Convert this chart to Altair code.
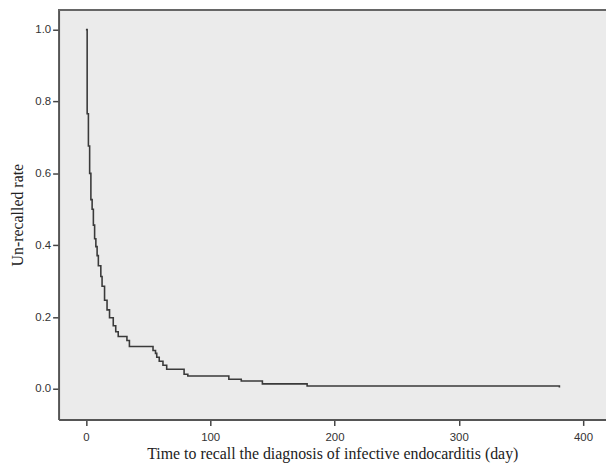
import altair as alt
import pandas as pd

# Kaplan-Meier style step data
times = [0, 1, 2, 3, 4, 5, 6, 7, 8, 9, 10, 12, 13, 15, 17, 19, 22, 24, 26, 33, 35,
         54, 56, 57, 59, 62, 65, 79, 82, 115, 125, 142, 178, 380, 381]
rates = [1.0, 0.766, 0.676, 0.60, 0.527, 0.50, 0.456, 0.418, 0.396, 0.371, 0.343,
         0.313, 0.286, 0.247, 0.22, 0.198, 0.176, 0.159, 0.146, 0.135, 0.118,
         0.107, 0.099, 0.088, 0.077, 0.066, 0.055, 0.041, 0.036, 0.027, 0.022,
         0.014, 0.008, 0.008, 0.004]

x_ticks = [0, 100, 200, 300, 400]
y_ticks = [0.0, 0.2, 0.4, 0.6, 0.8, 1.0]

df = pd.DataFrame({"t": times, "s": rates})

x_scale = alt.Scale(domain=[-22, 418.5], nice=False, zero=False)
y_scale = alt.Scale(domain=[-0.085, 1.055], nice=False, zero=False)

line = alt.Chart(df).mark_line(
    interpolate="step-after", color="#3a3a3a", strokeWidth=1.6, clip=True
).encode(
    x=alt.X("t:Q", scale=x_scale,
            title="Time to recall the diagnosis of infective endocarditis (day)",
            axis=alt.Axis(values=x_ticks, format="d", labelPadding=6, titlePadding=3)),
    y=alt.Y("s:Q", scale=y_scale, title="Un-recalled rate",
            axis=alt.Axis(values=y_ticks, format=".1f", titlePadding=9)),
)

top = alt.Chart(df).mark_rule(color="#666666", strokeWidth=2).encode(
    y=alt.value(0)
)

chart = alt.layer(line, top).properties(
    width=552, height=413,
    autosize=alt.AutoSizeParams(type="none"),
    padding={"left": 51, "top": 0, "right": 0, "bottom": 44},
    background="white",
).configure_view(
    fill="#ebebeb", stroke=None
).configure_axis(
    grid=False,
    domainColor="#555555", domainWidth=2,
    tickColor="#444444", tickSize=6, tickWidth=1.5,
    labelFont="Liberation Sans", labelFontSize=11.5, labelColor="#333333",
    titleFont="Liberation Serif", titleFontSize=16, titleFontWeight="normal",
    titleColor="#222222",
)

chart.save("out.html", embed_options={"renderer": "svg", "actions": False})
